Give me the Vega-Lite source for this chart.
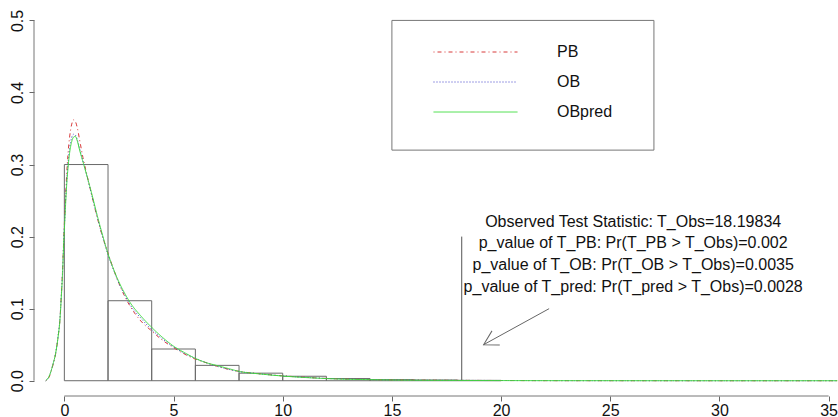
{
  "$schema": "https://vega.github.io/schema/vega-lite/v6.json",
  "autosize": {"type": "none"},
  "width": 804,
  "height": 390,
  "padding": {"left": 34, "top": 6, "right": 0, "bottom": 21},
  "background": "white",
  "config": {
    "font": "Liberation Sans",
    "view": {"stroke": null},
    "axis": {"grid": false, "domain": false, "tickSize": 5, "tickColor": "#666", "labelFontSize": 16, "labelColor": "#111", "labelFlush": false, "labelOverlap": false},
    "axisX": {"labelPadding": 1},
    "axisY": {"labelAngle": 270, "labelAlign": "center", "labelBaseline": "middle", "labelPadding": 12}
  },
  "datasets": {
    "hist": [
      {"bin_start": 0, "bin_end": 2, "density": 0.300},
      {"bin_start": 2, "bin_end": 4, "density": 0.111},
      {"bin_start": 4, "bin_end": 6, "density": 0.044},
      {"bin_start": 6, "bin_end": 8, "density": 0.0213},
      {"bin_start": 8, "bin_end": 10, "density": 0.0105},
      {"bin_start": 10, "bin_end": 12, "density": 0.0062},
      {"bin_start": 12, "bin_end": 14, "density": 0.003},
      {"bin_start": 14, "bin_end": 16, "density": 0.0015},
      {"bin_start": 16, "bin_end": 18, "density": 0.001},
      {"bin_start": 18, "bin_end": 20, "density": 0.0005}
    ],
    "obs": [{"T_Obs": 18.19834}],
    "notes": [{"label": ["Observed Test Statistic: T_Obs=18.19834", "p_value of T_PB: Pr(T_PB > T_Obs)=0.002", "p_value of T_OB: Pr(T_OB > T_Obs)=0.0035", "p_value of T_pred: Pr(T_pred > T_Obs)=0.0028"]}],
    "curves": [
      {"series": "PB", "t": -0.85, "density": 0.0},
      {"series": "PB", "t": -0.7, "density": 0.005},
      {"series": "PB", "t": -0.52, "density": 0.022},
      {"series": "PB", "t": -0.4, "density": 0.037},
      {"series": "PB", "t": -0.29, "density": 0.06},
      {"series": "PB", "t": -0.2, "density": 0.086},
      {"series": "PB", "t": -0.14, "density": 0.118},
      {"series": "PB", "t": -0.08, "density": 0.155},
      {"series": "PB", "t": -0.03, "density": 0.195},
      {"series": "PB", "t": 0.03, "density": 0.238},
      {"series": "PB", "t": 0.09, "density": 0.277},
      {"series": "PB", "t": 0.16, "density": 0.312},
      {"series": "PB", "t": 0.24, "density": 0.338},
      {"series": "PB", "t": 0.33, "density": 0.355},
      {"series": "PB", "t": 0.42, "density": 0.362},
      {"series": "PB", "t": 0.5, "density": 0.36},
      {"series": "PB", "t": 0.6, "density": 0.35},
      {"series": "PB", "t": 0.7, "density": 0.334},
      {"series": "PB", "t": 0.85, "density": 0.31},
      {"series": "PB", "t": 1.0, "density": 0.29},
      {"series": "PB", "t": 1.25, "density": 0.258},
      {"series": "PB", "t": 1.5, "density": 0.227},
      {"series": "PB", "t": 1.75, "density": 0.2},
      {"series": "PB", "t": 2.0, "density": 0.177},
      {"series": "PB", "t": 2.25, "density": 0.155},
      {"series": "PB", "t": 2.5, "density": 0.135},
      {"series": "PB", "t": 2.75, "density": 0.118},
      {"series": "PB", "t": 3.0, "density": 0.104},
      {"series": "PB", "t": 3.5, "density": 0.083},
      {"series": "PB", "t": 4.0, "density": 0.069},
      {"series": "PB", "t": 4.5, "density": 0.056},
      {"series": "PB", "t": 5.0, "density": 0.046},
      {"series": "PB", "t": 5.5, "density": 0.037},
      {"series": "PB", "t": 6.0, "density": 0.03},
      {"series": "PB", "t": 6.5, "density": 0.025},
      {"series": "PB", "t": 7.0, "density": 0.02},
      {"series": "PB", "t": 7.5, "density": 0.016},
      {"series": "PB", "t": 8.0, "density": 0.013},
      {"series": "PB", "t": 9.0, "density": 0.0095},
      {"series": "PB", "t": 10, "density": 0.0068},
      {"series": "PB", "t": 11, "density": 0.0048},
      {"series": "PB", "t": 12, "density": 0.0032},
      {"series": "PB", "t": 13, "density": 0.0022},
      {"series": "PB", "t": 14, "density": 0.0016},
      {"series": "PB", "t": 15, "density": 0.0012},
      {"series": "PB", "t": 16, "density": 0.0009},
      {"series": "PB", "t": 18, "density": 0.0005},
      {"series": "PB", "t": 20, "density": 0.0003},
      {"series": "PB", "t": 22, "density": 0.0001},
      {"series": "PB", "t": 25, "density": 0.00005},
      {"series": "PB", "t": 30, "density": 0.0},
      {"series": "PB", "t": 35.4, "density": 0.0},
      {"series": "OB", "t": -0.85, "density": 0.0},
      {"series": "OB", "t": -0.7, "density": 0.006},
      {"series": "OB", "t": -0.52, "density": 0.023},
      {"series": "OB", "t": -0.4, "density": 0.038},
      {"series": "OB", "t": -0.29, "density": 0.061},
      {"series": "OB", "t": -0.2, "density": 0.087},
      {"series": "OB", "t": -0.14, "density": 0.118},
      {"series": "OB", "t": -0.08, "density": 0.153},
      {"series": "OB", "t": -0.03, "density": 0.192},
      {"series": "OB", "t": 0.03, "density": 0.232},
      {"series": "OB", "t": 0.09, "density": 0.268},
      {"series": "OB", "t": 0.16, "density": 0.298},
      {"series": "OB", "t": 0.24, "density": 0.322},
      {"series": "OB", "t": 0.33, "density": 0.337},
      {"series": "OB", "t": 0.42, "density": 0.342},
      {"series": "OB", "t": 0.5, "density": 0.341},
      {"series": "OB", "t": 0.6, "density": 0.334},
      {"series": "OB", "t": 0.7, "density": 0.322},
      {"series": "OB", "t": 0.85, "density": 0.305},
      {"series": "OB", "t": 1.0, "density": 0.288},
      {"series": "OB", "t": 1.25, "density": 0.258},
      {"series": "OB", "t": 1.5, "density": 0.228},
      {"series": "OB", "t": 1.75, "density": 0.2},
      {"series": "OB", "t": 2.0, "density": 0.175},
      {"series": "OB", "t": 2.25, "density": 0.154},
      {"series": "OB", "t": 2.5, "density": 0.135},
      {"series": "OB", "t": 2.75, "density": 0.12},
      {"series": "OB", "t": 3.0, "density": 0.106},
      {"series": "OB", "t": 3.5, "density": 0.087},
      {"series": "OB", "t": 4.0, "density": 0.071},
      {"series": "OB", "t": 4.5, "density": 0.058},
      {"series": "OB", "t": 5.0, "density": 0.047},
      {"series": "OB", "t": 5.5, "density": 0.038},
      {"series": "OB", "t": 6.0, "density": 0.031},
      {"series": "OB", "t": 6.5, "density": 0.025},
      {"series": "OB", "t": 7.0, "density": 0.02},
      {"series": "OB", "t": 7.5, "density": 0.016},
      {"series": "OB", "t": 8.0, "density": 0.0128},
      {"series": "OB", "t": 9.0, "density": 0.0094},
      {"series": "OB", "t": 10, "density": 0.0067},
      {"series": "OB", "t": 11, "density": 0.0047},
      {"series": "OB", "t": 12, "density": 0.0032},
      {"series": "OB", "t": 13, "density": 0.0022},
      {"series": "OB", "t": 14, "density": 0.0016},
      {"series": "OB", "t": 15, "density": 0.0011},
      {"series": "OB", "t": 16, "density": 0.0008},
      {"series": "OB", "t": 18, "density": 0.0005},
      {"series": "OB", "t": 20, "density": 0.0003},
      {"series": "OB", "t": 22, "density": 0.00015},
      {"series": "OB", "t": 25, "density": 0.00005},
      {"series": "OB", "t": 30, "density": 0.0},
      {"series": "OB", "t": 35.4, "density": 0.0},
      {"series": "OBpred", "t": -0.85, "density": 0.0},
      {"series": "OBpred", "t": -0.7, "density": 0.006},
      {"series": "OBpred", "t": -0.52, "density": 0.023},
      {"series": "OBpred", "t": -0.4, "density": 0.038},
      {"series": "OBpred", "t": -0.29, "density": 0.06},
      {"series": "OBpred", "t": -0.2, "density": 0.085},
      {"series": "OBpred", "t": -0.14, "density": 0.116},
      {"series": "OBpred", "t": -0.08, "density": 0.15},
      {"series": "OBpred", "t": -0.03, "density": 0.19},
      {"series": "OBpred", "t": 0.03, "density": 0.228},
      {"series": "OBpred", "t": 0.09, "density": 0.264},
      {"series": "OBpred", "t": 0.16, "density": 0.293},
      {"series": "OBpred", "t": 0.24, "density": 0.316},
      {"series": "OBpred", "t": 0.33, "density": 0.331},
      {"series": "OBpred", "t": 0.42, "density": 0.338},
      {"series": "OBpred", "t": 0.5, "density": 0.339},
      {"series": "OBpred", "t": 0.6, "density": 0.332},
      {"series": "OBpred", "t": 0.7, "density": 0.32},
      {"series": "OBpred", "t": 0.85, "density": 0.304},
      {"series": "OBpred", "t": 1.0, "density": 0.288},
      {"series": "OBpred", "t": 1.25, "density": 0.26},
      {"series": "OBpred", "t": 1.5, "density": 0.23},
      {"series": "OBpred", "t": 1.75, "density": 0.202},
      {"series": "OBpred", "t": 2.0, "density": 0.176},
      {"series": "OBpred", "t": 2.25, "density": 0.155},
      {"series": "OBpred", "t": 2.5, "density": 0.137},
      {"series": "OBpred", "t": 2.75, "density": 0.122},
      {"series": "OBpred", "t": 3.0, "density": 0.109},
      {"series": "OBpred", "t": 3.5, "density": 0.09},
      {"series": "OBpred", "t": 4.0, "density": 0.074},
      {"series": "OBpred", "t": 4.5, "density": 0.06},
      {"series": "OBpred", "t": 5.0, "density": 0.048},
      {"series": "OBpred", "t": 5.5, "density": 0.039},
      {"series": "OBpred", "t": 6.0, "density": 0.031},
      {"series": "OBpred", "t": 6.5, "density": 0.025},
      {"series": "OBpred", "t": 7.0, "density": 0.021},
      {"series": "OBpred", "t": 7.5, "density": 0.017},
      {"series": "OBpred", "t": 8.0, "density": 0.013},
      {"series": "OBpred", "t": 9.0, "density": 0.0093},
      {"series": "OBpred", "t": 10, "density": 0.0065},
      {"series": "OBpred", "t": 11, "density": 0.0045},
      {"series": "OBpred", "t": 12, "density": 0.003},
      {"series": "OBpred", "t": 13, "density": 0.002},
      {"series": "OBpred", "t": 14, "density": 0.0015},
      {"series": "OBpred", "t": 15, "density": 0.001},
      {"series": "OBpred", "t": 16, "density": 0.0007},
      {"series": "OBpred", "t": 18, "density": 0.0004},
      {"series": "OBpred", "t": 20, "density": 0.0002},
      {"series": "OBpred", "t": 22, "density": 0.0001},
      {"series": "OBpred", "t": 25, "density": 0.00005},
      {"series": "OBpred", "t": 30, "density": 0.0},
      {"series": "OBpred", "t": 35.4, "density": 0.0}
    ]
  },
  "layer": [
    {
      "data": {"name": "hist"},
      "mark": {"type": "rect", "fill": "transparent", "stroke": "#6a6a6a", "strokeWidth": 1},
      "encoding": {
        "x": {"field": "bin_start", "type": "quantitative", "title": null,
              "scale": {"domain": [-1.39, 35.43], "nice": false, "zero": false},
              "axis": {"values": [0, 5, 10, 15, 20, 25, 30, 35]}},
        "x2": {"field": "bin_end"},
        "y": {"field": "density", "type": "quantitative", "title": null,
              "scale": {"domain": [-0.0212, 0.52], "nice": false, "zero": false},
              "axis": {"values": [0, 0.1, 0.2, 0.3, 0.4, 0.5], "format": ".1f"}},
        "y2": {"datum": 0}
      }
    },
    {
      "data": {"name": "obs"},
      "mark": {"type": "rule", "color": "#555", "strokeWidth": 1},
      "encoding": {
        "x": {"field": "T_Obs", "type": "quantitative", "title": null},
        "y": {"datum": 0, "type": "quantitative", "title": null},
        "y2": {"datum": 0.2}
      }
    },
    {
      "data": {"name": "obs"},
      "mark": {"type": "rule", "color": "#666", "strokeWidth": 1},
      "encoding": {
        "x": {"datum": 22.2, "type": "quantitative", "title": null},
        "x2": {"datum": 19.2},
        "y": {"datum": 0.1, "type": "quantitative", "title": null},
        "y2": {"datum": 0.05}
      }
    },
    {
      "data": {"name": "obs"},
      "mark": {"type": "point", "shape": "M-1,-0.577L0,0L-1,0.577", "filled": false, "stroke": "#666", "strokeWidth": 1, "size": 784, "angle": 151.2, "opacity": 1},
      "encoding": {
        "x": {"datum": 19.2, "type": "quantitative", "title": null},
        "y": {"datum": 0.05, "type": "quantitative", "title": null}
      }
    },
    {
      "data": {"name": "notes"},
      "mark": {"type": "text", "fontSize": 16, "lineHeight": 21.7, "align": "center", "baseline": "middle", "color": "#111"},
      "encoding": {
        "text": {"field": "label", "type": "nominal"},
        "x": {"datum": 26.05, "type": "quantitative", "title": null},
        "y": {"datum": 0.2207, "type": "quantitative", "title": null}
      }
    },
    {
      "data": {"name": "obs"},
      "mark": {"type": "rect", "fill": "white", "stroke": "#777", "strokeWidth": 1},
      "encoding": {
        "x": {"datum": 15, "type": "quantitative", "title": null},
        "x2": {"datum": 27},
        "y": {"datum": 0.5, "type": "quantitative", "title": null},
        "y2": {"datum": 0.32}
      }
    },
    {
      "data": {"name": "obs"},
      "mark": {"type": "rule", "color": "#777", "strokeWidth": 1},
      "encoding": {
        "x": {"datum": 0, "type": "quantitative", "title": null},
        "x2": {"datum": 35},
        "y": {"datum": -0.0212, "type": "quantitative", "title": null}
      }
    },
    {
      "data": {"name": "obs"},
      "mark": {"type": "rule", "color": "#777", "strokeWidth": 1},
      "encoding": {
        "x": {"datum": -1.39, "type": "quantitative", "title": null},
        "y": {"datum": 0, "type": "quantitative", "title": null},
        "y2": {"datum": 0.5}
      }
    },
    {
      "data": {"name": "curves"},
      "mark": {"type": "line", "strokeWidth": 1, "interpolate": "monotone"},
      "encoding": {
        "x": {"field": "t", "type": "quantitative", "title": null},
        "y": {"field": "density", "type": "quantitative", "title": null},
        "color": {"field": "series", "type": "nominal",
                  "scale": {"domain": ["PB", "OB", "OBpred"], "range": ["#d83a3a", "#3c3cc8", "#3fdc3f"]},
                  "legend": {"title": null, "orient": "none", "legendX": 399, "legendY": 31, "symbolType": "stroke",
                             "symbolSize": 7056, "symbolStrokeWidth": 1, "clipHeight": 30, "rowPadding": 0,
                             "labelOffset": 39, "labelFontSize": 16, "labelColor": "#111", "padding": 0}},
        "strokeDash": {"field": "series", "type": "nominal",
                       "scale": {"domain": ["PB", "OB", "OBpred"], "range": [[1, 3, 4, 3], [1, 2], [1, 0]]},
                       "legend": {"title": null, "orient": "none", "legendX": 399, "legendY": 31, "symbolType": "stroke",
                                  "symbolSize": 7056, "symbolStrokeWidth": 1, "clipHeight": 30, "rowPadding": 0,
                                  "labelOffset": 39, "labelFontSize": 16, "labelColor": "#111", "padding": 0}}
      }
    }
  ]
}
